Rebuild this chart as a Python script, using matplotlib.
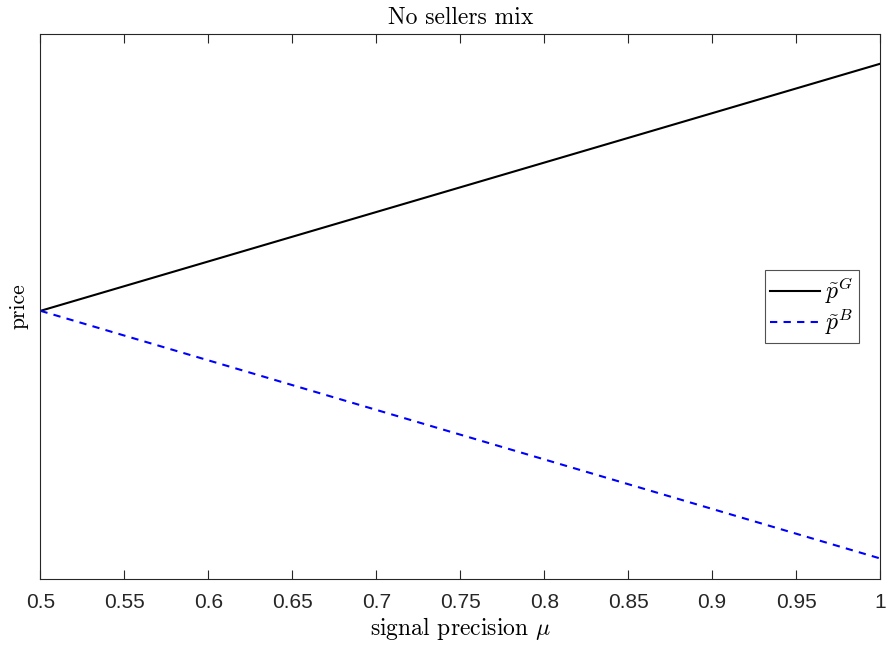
import matplotlib
matplotlib.use("Agg")
import matplotlib.pyplot as plt

# ========= data =========
mu = [0.5, 1.0]
p_good = [0.492, 0.945]
p_bad = [0.492, 0.038]
xticks = [0.5, 0.55, 0.6, 0.65, 0.7, 0.75, 0.8, 0.85, 0.9, 0.95, 1.0]
xtick_labels = ["0.5", "0.55", "0.6", "0.65", "0.7", "0.75", "0.8", "0.85", "0.9", "0.95", "1"]

plt.rcParams["mathtext.fontset"] = "cm"
edge = (0.15, 0.15, 0.15)
serif = ["cmr10", "DejaVu Serif"]

fig = plt.figure(figsize=(8.88, 6.5), dpi=100)
ax = fig.add_axes([0.0456, 0.109, 0.9454, 0.839])

ax.plot(mu, p_good, color="black", linewidth=1.5, label=r"$\tilde{p}^G$")
ax.plot(mu, p_bad, color="blue", linewidth=1.5, linestyle=(0, (3.5, 3)), label=r"$\tilde{p}^B$")

ax.set_xlim(0.5, 1.0)
ax.set_ylim(0, 1)
ax.set_xticks(xticks)
ax.set_xticklabels(xtick_labels, family="Liberation Sans", fontsize=15, color=edge)
ax.set_yticks([])
ax.tick_params(axis="x", direction="in", length=6.5, width=0.8, top=True, colors=edge,
               labelcolor=edge, pad=10)
for s in ax.spines.values():
    s.set_color(edge)
    s.set_linewidth(0.8)

ax.set_title("No sellers mix", fontsize=17, pad=7)
ax.title.set_fontfamily(serif)
ax.set_xlabel(r"signal precision $\mu$", fontsize=17, labelpad=2)
ax.xaxis.label.set_fontfamily(serif)
ax.set_ylabel("price", fontsize=15.5, labelpad=9)
ax.yaxis.label.set_fontfamily(serif)

leg = ax.legend(loc="center right", bbox_to_anchor=(0.975, 0.5), fontsize=17,
                frameon=True, fancybox=False, edgecolor=edge, handlelength=2.1,
                handletextpad=0.2, borderpad=0.25, labelspacing=0.05, borderaxespad=0)
leg.get_frame().set_linewidth(0.8)

fig.savefig("out.png", dpi=100)
